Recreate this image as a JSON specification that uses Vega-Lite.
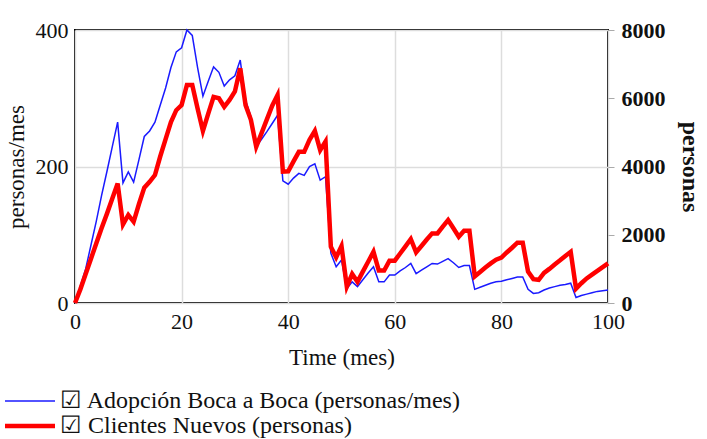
{
  "$schema": "https://vega.github.io/schema/vega-lite/v6.json",
  "autosize": {"type": "none"},
  "width": 533,
  "height": 273,
  "padding": {"left": 75, "top": 30, "right": 99, "bottom": 136},
  "background": "white",
  "config": {
    "view": {"stroke": "black", "strokeWidth": 2},
    "font": "Liberation Serif",
    "axis": {
      "labelFont": "Liberation Serif",
      "titleFont": "Liberation Serif",
      "labelFontSize": 22,
      "titleFontSize": 23,
      "labelColor": "#111",
      "titleColor": "#111",
      "titleFontWeight": "normal",
      "domain": false,
      "labelFlush": false,
      "gridColor": "#dddddd",
      "gridWidth": 1.5
    },
    "legend": {"padding": 0}
  },
  "datasets": {
    "adop": [
      {"t": 0, "v": 0, "serie": "Adopción Boca a Boca (personas/mes)"},
      {"t": 1, "v": 25, "serie": "Adopción Boca a Boca (personas/mes)"},
      {"t": 2, "v": 50, "serie": "Adopción Boca a Boca (personas/mes)"},
      {"t": 3, "v": 85, "serie": "Adopción Boca a Boca (personas/mes)"},
      {"t": 4, "v": 120, "serie": "Adopción Boca a Boca (personas/mes)"},
      {"t": 5, "v": 158, "serie": "Adopción Boca a Boca (personas/mes)"},
      {"t": 6, "v": 193, "serie": "Adopción Boca a Boca (personas/mes)"},
      {"t": 7, "v": 229, "serie": "Adopción Boca a Boca (personas/mes)"},
      {"t": 8, "v": 265, "serie": "Adopción Boca a Boca (personas/mes)"},
      {"t": 9, "v": 176, "serie": "Adopción Boca a Boca (personas/mes)"},
      {"t": 10, "v": 192, "serie": "Adopción Boca a Boca (personas/mes)"},
      {"t": 11, "v": 177, "serie": "Adopción Boca a Boca (personas/mes)"},
      {"t": 12, "v": 210, "serie": "Adopción Boca a Boca (personas/mes)"},
      {"t": 13, "v": 244, "serie": "Adopción Boca a Boca (personas/mes)"},
      {"t": 14, "v": 252, "serie": "Adopción Boca a Boca (personas/mes)"},
      {"t": 15, "v": 265, "serie": "Adopción Boca a Boca (personas/mes)"},
      {"t": 16, "v": 290, "serie": "Adopción Boca a Boca (personas/mes)"},
      {"t": 17, "v": 315, "serie": "Adopción Boca a Boca (personas/mes)"},
      {"t": 18, "v": 345, "serie": "Adopción Boca a Boca (personas/mes)"},
      {"t": 19, "v": 368, "serie": "Adopción Boca a Boca (personas/mes)"},
      {"t": 20, "v": 374, "serie": "Adopción Boca a Boca (personas/mes)"},
      {"t": 21, "v": 400, "serie": "Adopción Boca a Boca (personas/mes)"},
      {"t": 22, "v": 392, "serie": "Adopción Boca a Boca (personas/mes)"},
      {"t": 23, "v": 345, "serie": "Adopción Boca a Boca (personas/mes)"},
      {"t": 24, "v": 303, "serie": "Adopción Boca a Boca (personas/mes)"},
      {"t": 25, "v": 325, "serie": "Adopción Boca a Boca (personas/mes)"},
      {"t": 26, "v": 346, "serie": "Adopción Boca a Boca (personas/mes)"},
      {"t": 27, "v": 338, "serie": "Adopción Boca a Boca (personas/mes)"},
      {"t": 28, "v": 318, "serie": "Adopción Boca a Boca (personas/mes)"},
      {"t": 29, "v": 327, "serie": "Adopción Boca a Boca (personas/mes)"},
      {"t": 30, "v": 333, "serie": "Adopción Boca a Boca (personas/mes)"},
      {"t": 31, "v": 356, "serie": "Adopción Boca a Boca (personas/mes)"},
      {"t": 32, "v": 297, "serie": "Adopción Boca a Boca (personas/mes)"},
      {"t": 33, "v": 273, "serie": "Adopción Boca a Boca (personas/mes)"},
      {"t": 34, "v": 229, "serie": "Adopción Boca a Boca (personas/mes)"},
      {"t": 35, "v": 240, "serie": "Adopción Boca a Boca (personas/mes)"},
      {"t": 36, "v": 251, "serie": "Adopción Boca a Boca (personas/mes)"},
      {"t": 37, "v": 263, "serie": "Adopción Boca a Boca (personas/mes)"},
      {"t": 38, "v": 275, "serie": "Adopción Boca a Boca (personas/mes)"},
      {"t": 39, "v": 179, "serie": "Adopción Boca a Boca (personas/mes)"},
      {"t": 40, "v": 174, "serie": "Adopción Boca a Boca (personas/mes)"},
      {"t": 41, "v": 183, "serie": "Adopción Boca a Boca (personas/mes)"},
      {"t": 42, "v": 190, "serie": "Adopción Boca a Boca (personas/mes)"},
      {"t": 43, "v": 187, "serie": "Adopción Boca a Boca (personas/mes)"},
      {"t": 44, "v": 200, "serie": "Adopción Boca a Boca (personas/mes)"},
      {"t": 45, "v": 204, "serie": "Adopción Boca a Boca (personas/mes)"},
      {"t": 46, "v": 180, "serie": "Adopción Boca a Boca (personas/mes)"},
      {"t": 47, "v": 185, "serie": "Adopción Boca a Boca (personas/mes)"},
      {"t": 48, "v": 73, "serie": "Adopción Boca a Boca (personas/mes)"},
      {"t": 49, "v": 53, "serie": "Adopción Boca a Boca (personas/mes)"},
      {"t": 50, "v": 63, "serie": "Adopción Boca a Boca (personas/mes)"},
      {"t": 51, "v": 21, "serie": "Adopción Boca a Boca (personas/mes)"},
      {"t": 52, "v": 31, "serie": "Adopción Boca a Boca (personas/mes)"},
      {"t": 53, "v": 24, "serie": "Adopción Boca a Boca (personas/mes)"},
      {"t": 54, "v": 34, "serie": "Adopción Boca a Boca (personas/mes)"},
      {"t": 55, "v": 44, "serie": "Adopción Boca a Boca (personas/mes)"},
      {"t": 56, "v": 53, "serie": "Adopción Boca a Boca (personas/mes)"},
      {"t": 57, "v": 31, "serie": "Adopción Boca a Boca (personas/mes)"},
      {"t": 58, "v": 31, "serie": "Adopción Boca a Boca (personas/mes)"},
      {"t": 59, "v": 41, "serie": "Adopción Boca a Boca (personas/mes)"},
      {"t": 60, "v": 41, "serie": "Adopción Boca a Boca (personas/mes)"},
      {"t": 61, "v": 47, "serie": "Adopción Boca a Boca (personas/mes)"},
      {"t": 62, "v": 52, "serie": "Adopción Boca a Boca (personas/mes)"},
      {"t": 63, "v": 58, "serie": "Adopción Boca a Boca (personas/mes)"},
      {"t": 64, "v": 43, "serie": "Adopción Boca a Boca (personas/mes)"},
      {"t": 65, "v": 48, "serie": "Adopción Boca a Boca (personas/mes)"},
      {"t": 66, "v": 53, "serie": "Adopción Boca a Boca (personas/mes)"},
      {"t": 67, "v": 58, "serie": "Adopción Boca a Boca (personas/mes)"},
      {"t": 68, "v": 57, "serie": "Adopción Boca a Boca (personas/mes)"},
      {"t": 69, "v": 61, "serie": "Adopción Boca a Boca (personas/mes)"},
      {"t": 70, "v": 65, "serie": "Adopción Boca a Boca (personas/mes)"},
      {"t": 71, "v": 59, "serie": "Adopción Boca a Boca (personas/mes)"},
      {"t": 72, "v": 52, "serie": "Adopción Boca a Boca (personas/mes)"},
      {"t": 73, "v": 55, "serie": "Adopción Boca a Boca (personas/mes)"},
      {"t": 74, "v": 55, "serie": "Adopción Boca a Boca (personas/mes)"},
      {"t": 75, "v": 20, "serie": "Adopción Boca a Boca (personas/mes)"},
      {"t": 76, "v": 23, "serie": "Adopción Boca a Boca (personas/mes)"},
      {"t": 77, "v": 26, "serie": "Adopción Boca a Boca (personas/mes)"},
      {"t": 78, "v": 29, "serie": "Adopción Boca a Boca (personas/mes)"},
      {"t": 79, "v": 31, "serie": "Adopción Boca a Boca (personas/mes)"},
      {"t": 80, "v": 32, "serie": "Adopción Boca a Boca (personas/mes)"},
      {"t": 81, "v": 34, "serie": "Adopción Boca a Boca (personas/mes)"},
      {"t": 82, "v": 36, "serie": "Adopción Boca a Boca (personas/mes)"},
      {"t": 83, "v": 38, "serie": "Adopción Boca a Boca (personas/mes)"},
      {"t": 84, "v": 38, "serie": "Adopción Boca a Boca (personas/mes)"},
      {"t": 85, "v": 20, "serie": "Adopción Boca a Boca (personas/mes)"},
      {"t": 86, "v": 14, "serie": "Adopción Boca a Boca (personas/mes)"},
      {"t": 87, "v": 15, "serie": "Adopción Boca a Boca (personas/mes)"},
      {"t": 88, "v": 19, "serie": "Adopción Boca a Boca (personas/mes)"},
      {"t": 89, "v": 22, "serie": "Adopción Boca a Boca (personas/mes)"},
      {"t": 90, "v": 24, "serie": "Adopción Boca a Boca (personas/mes)"},
      {"t": 91, "v": 26, "serie": "Adopción Boca a Boca (personas/mes)"},
      {"t": 92, "v": 27, "serie": "Adopción Boca a Boca (personas/mes)"},
      {"t": 93, "v": 29, "serie": "Adopción Boca a Boca (personas/mes)"},
      {"t": 94, "v": 8, "serie": "Adopción Boca a Boca (personas/mes)"},
      {"t": 95, "v": 11, "serie": "Adopción Boca a Boca (personas/mes)"},
      {"t": 96, "v": 13, "serie": "Adopción Boca a Boca (personas/mes)"},
      {"t": 97, "v": 15, "serie": "Adopción Boca a Boca (personas/mes)"},
      {"t": 98, "v": 17, "serie": "Adopción Boca a Boca (personas/mes)"},
      {"t": 99, "v": 18, "serie": "Adopción Boca a Boca (personas/mes)"},
      {"t": 100, "v": 19, "serie": "Adopción Boca a Boca (personas/mes)"}
    ],
    "cli": [
      {"t": 0, "v": 0, "serie": "Clientes Nuevos (personas)"},
      {"t": 1, "v": 400, "serie": "Clientes Nuevos (personas)"},
      {"t": 2, "v": 850, "serie": "Clientes Nuevos (personas)"},
      {"t": 3, "v": 1300, "serie": "Clientes Nuevos (personas)"},
      {"t": 4, "v": 1750, "serie": "Clientes Nuevos (personas)"},
      {"t": 5, "v": 2200, "serie": "Clientes Nuevos (personas)"},
      {"t": 6, "v": 2620, "serie": "Clientes Nuevos (personas)"},
      {"t": 7, "v": 3060, "serie": "Clientes Nuevos (personas)"},
      {"t": 8, "v": 3500, "serie": "Clientes Nuevos (personas)"},
      {"t": 9, "v": 2300, "serie": "Clientes Nuevos (personas)"},
      {"t": 10, "v": 2580, "serie": "Clientes Nuevos (personas)"},
      {"t": 11, "v": 2380, "serie": "Clientes Nuevos (personas)"},
      {"t": 12, "v": 2900, "serie": "Clientes Nuevos (personas)"},
      {"t": 13, "v": 3380, "serie": "Clientes Nuevos (personas)"},
      {"t": 14, "v": 3550, "serie": "Clientes Nuevos (personas)"},
      {"t": 15, "v": 3750, "serie": "Clientes Nuevos (personas)"},
      {"t": 16, "v": 4300, "serie": "Clientes Nuevos (personas)"},
      {"t": 17, "v": 4800, "serie": "Clientes Nuevos (personas)"},
      {"t": 18, "v": 5300, "serie": "Clientes Nuevos (personas)"},
      {"t": 19, "v": 5650, "serie": "Clientes Nuevos (personas)"},
      {"t": 20, "v": 5800, "serie": "Clientes Nuevos (personas)"},
      {"t": 21, "v": 6390, "serie": "Clientes Nuevos (personas)"},
      {"t": 22, "v": 6390, "serie": "Clientes Nuevos (personas)"},
      {"t": 23, "v": 5700, "serie": "Clientes Nuevos (personas)"},
      {"t": 24, "v": 5040, "serie": "Clientes Nuevos (personas)"},
      {"t": 25, "v": 5550, "serie": "Clientes Nuevos (personas)"},
      {"t": 26, "v": 6040, "serie": "Clientes Nuevos (personas)"},
      {"t": 27, "v": 6000, "serie": "Clientes Nuevos (personas)"},
      {"t": 28, "v": 5750, "serie": "Clientes Nuevos (personas)"},
      {"t": 29, "v": 5950, "serie": "Clientes Nuevos (personas)"},
      {"t": 30, "v": 6200, "serie": "Clientes Nuevos (personas)"},
      {"t": 31, "v": 6880, "serie": "Clientes Nuevos (personas)"},
      {"t": 32, "v": 5800, "serie": "Clientes Nuevos (personas)"},
      {"t": 33, "v": 5370, "serie": "Clientes Nuevos (personas)"},
      {"t": 34, "v": 4580, "serie": "Clientes Nuevos (personas)"},
      {"t": 35, "v": 4980, "serie": "Clientes Nuevos (personas)"},
      {"t": 36, "v": 5380, "serie": "Clientes Nuevos (personas)"},
      {"t": 37, "v": 5780, "serie": "Clientes Nuevos (personas)"},
      {"t": 38, "v": 6094, "serie": "Clientes Nuevos (personas)"},
      {"t": 39, "v": 3850, "serie": "Clientes Nuevos (personas)"},
      {"t": 40, "v": 3860, "serie": "Clientes Nuevos (personas)"},
      {"t": 41, "v": 4150, "serie": "Clientes Nuevos (personas)"},
      {"t": 42, "v": 4430, "serie": "Clientes Nuevos (personas)"},
      {"t": 43, "v": 4430, "serie": "Clientes Nuevos (personas)"},
      {"t": 44, "v": 4780, "serie": "Clientes Nuevos (personas)"},
      {"t": 45, "v": 5040, "serie": "Clientes Nuevos (personas)"},
      {"t": 46, "v": 4480, "serie": "Clientes Nuevos (personas)"},
      {"t": 47, "v": 4730, "serie": "Clientes Nuevos (personas)"},
      {"t": 48, "v": 1650, "serie": "Clientes Nuevos (personas)"},
      {"t": 49, "v": 1340, "serie": "Clientes Nuevos (personas)"},
      {"t": 50, "v": 1670, "serie": "Clientes Nuevos (personas)"},
      {"t": 51, "v": 480, "serie": "Clientes Nuevos (personas)"},
      {"t": 52, "v": 850, "serie": "Clientes Nuevos (personas)"},
      {"t": 53, "v": 620, "serie": "Clientes Nuevos (personas)"},
      {"t": 54, "v": 920, "serie": "Clientes Nuevos (personas)"},
      {"t": 55, "v": 1210, "serie": "Clientes Nuevos (personas)"},
      {"t": 56, "v": 1500, "serie": "Clientes Nuevos (personas)"},
      {"t": 57, "v": 950, "serie": "Clientes Nuevos (personas)"},
      {"t": 58, "v": 950, "serie": "Clientes Nuevos (personas)"},
      {"t": 59, "v": 1240, "serie": "Clientes Nuevos (personas)"},
      {"t": 60, "v": 1240, "serie": "Clientes Nuevos (personas)"},
      {"t": 61, "v": 1450, "serie": "Clientes Nuevos (personas)"},
      {"t": 62, "v": 1660, "serie": "Clientes Nuevos (personas)"},
      {"t": 63, "v": 1875, "serie": "Clientes Nuevos (personas)"},
      {"t": 64, "v": 1485, "serie": "Clientes Nuevos (personas)"},
      {"t": 65, "v": 1670, "serie": "Clientes Nuevos (personas)"},
      {"t": 66, "v": 1860, "serie": "Clientes Nuevos (personas)"},
      {"t": 67, "v": 2040, "serie": "Clientes Nuevos (personas)"},
      {"t": 68, "v": 2040, "serie": "Clientes Nuevos (personas)"},
      {"t": 69, "v": 2240, "serie": "Clientes Nuevos (personas)"},
      {"t": 70, "v": 2430, "serie": "Clientes Nuevos (personas)"},
      {"t": 71, "v": 2190, "serie": "Clientes Nuevos (personas)"},
      {"t": 72, "v": 1940, "serie": "Clientes Nuevos (personas)"},
      {"t": 73, "v": 2120, "serie": "Clientes Nuevos (personas)"},
      {"t": 74, "v": 2120, "serie": "Clientes Nuevos (personas)"},
      {"t": 75, "v": 780, "serie": "Clientes Nuevos (personas)"},
      {"t": 76, "v": 910, "serie": "Clientes Nuevos (personas)"},
      {"t": 77, "v": 1040, "serie": "Clientes Nuevos (personas)"},
      {"t": 78, "v": 1160, "serie": "Clientes Nuevos (personas)"},
      {"t": 79, "v": 1270, "serie": "Clientes Nuevos (personas)"},
      {"t": 80, "v": 1330, "serie": "Clientes Nuevos (personas)"},
      {"t": 81, "v": 1480, "serie": "Clientes Nuevos (personas)"},
      {"t": 82, "v": 1620, "serie": "Clientes Nuevos (personas)"},
      {"t": 83, "v": 1767, "serie": "Clientes Nuevos (personas)"},
      {"t": 84, "v": 1767, "serie": "Clientes Nuevos (personas)"},
      {"t": 85, "v": 918, "serie": "Clientes Nuevos (personas)"},
      {"t": 86, "v": 700, "serie": "Clientes Nuevos (personas)"},
      {"t": 87, "v": 680, "serie": "Clientes Nuevos (personas)"},
      {"t": 88, "v": 880, "serie": "Clientes Nuevos (personas)"},
      {"t": 89, "v": 1000, "serie": "Clientes Nuevos (personas)"},
      {"t": 90, "v": 1130, "serie": "Clientes Nuevos (personas)"},
      {"t": 91, "v": 1250, "serie": "Clientes Nuevos (personas)"},
      {"t": 92, "v": 1380, "serie": "Clientes Nuevos (personas)"},
      {"t": 93, "v": 1500, "serie": "Clientes Nuevos (personas)"},
      {"t": 94, "v": 420, "serie": "Clientes Nuevos (personas)"},
      {"t": 95, "v": 580, "serie": "Clientes Nuevos (personas)"},
      {"t": 96, "v": 720, "serie": "Clientes Nuevos (personas)"},
      {"t": 97, "v": 830, "serie": "Clientes Nuevos (personas)"},
      {"t": 98, "v": 940, "serie": "Clientes Nuevos (personas)"},
      {"t": 99, "v": 1050, "serie": "Clientes Nuevos (personas)"},
      {"t": 100, "v": 1160, "serie": "Clientes Nuevos (personas)"}
    ]
  },
  "layer": [
    {
      "data": {"name": "adop"},
      "mark": {"type": "line", "interpolate": "linear"},
      "encoding": {
        "x": {
          "field": "t", "type": "quantitative",
          "scale": {"domain": [0, 100], "nice": false},
          "axis": {"title": "Time (mes)", "values": [0, 20, 40, 60, 80, 100], "ticks": false, "labelPadding": 8, "titlePadding": 14, "grid": true}
        },
        "y": {
          "field": "v", "type": "quantitative",
          "scale": {"domain": [0, 400], "nice": false},
          "axis": {"title": "personas/mes", "orient": "left", "values": [0, 200, 400], "ticks": false, "labelPadding": 7, "titlePadding": 7, "grid": true}
        },
        "color": {
          "field": "serie", "type": "nominal",
          "scale": {"domain": ["Adopción Boca a Boca (personas/mes)", "Clientes Nuevos (personas)"], "range": ["#1a1aff", "#ff0000"]},
          "legend": {"title": null, "orient": "none", "legendX": -57, "legendY": 359, "symbolType": "M-5,0H5", "symbolSize": 100, "labelFont": "Liberation Serif", "labelFontSize": 24, "labelColor": "#111", "labelLimit": 600, "labelOffset": 18, "rowPadding": 1, "labelExpr": "'☑ ' + datum.label"}
        },
        "strokeWidth": {
          "field": "serie", "type": "nominal",
          "scale": {"domain": ["Adopción Boca a Boca (personas/mes)", "Clientes Nuevos (personas)"], "range": [1.5, 4.5]},
          "legend": {"title": null, "orient": "none", "legendX": -57, "legendY": 359, "symbolType": "M-5,0H5", "symbolSize": 100, "labelFont": "Liberation Serif", "labelFontSize": 24, "labelColor": "#111", "labelLimit": 600, "labelOffset": 18, "rowPadding": 1, "labelExpr": "'☑ ' + datum.label"}
        }
      }
    },
    {
      "data": {"name": "cli"},
      "mark": {"type": "line", "interpolate": "linear"},
      "encoding": {
        "x": {"field": "t", "type": "quantitative"},
        "y": {
          "field": "v", "type": "quantitative",
          "scale": {"domain": [0, 8000], "nice": false},
          "axis": {"title": "personas", "orient": "right", "format": "d", "values": [0, 2000, 4000, 6000, 8000], "grid": false, "ticks": true, "tickColor": "#aaaaaa", "tickSize": 6, "labelPadding": 7, "labelFontWeight": "bold", "titleFontWeight": "bold", "titleFontSize": 24, "titleAngle": 90, "titlePadding": 12}
        },
        "color": {"field": "serie", "type": "nominal"},
        "strokeWidth": {"field": "serie", "type": "nominal"}
      }
    }
  ],
  "resolve": {"scale": {"y": "independent"}, "axis": {"y": "independent"}}
}
